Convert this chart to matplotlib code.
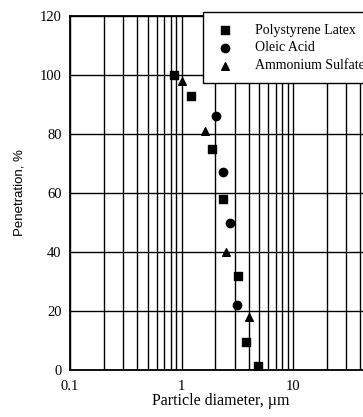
import matplotlib
matplotlib.use("Agg")
import matplotlib.pyplot as plt
import numpy as np

# data
ps_d = [0.86, 1.21, 1.87, 2.37, 3.19, 3.77, 4.88]
ps_p = [100, 93, 75, 58, 32, 9.5, 1.5]

oa_d = [2.03, 2.37, 2.72, 3.17]
oa_p = [86, 67, 50, 22]

as_d = [1.0, 1.62, 2.51, 4.06]
as_p = [98, 81, 40, 18]

labels = ["Polystyrene Latex", "Oleic Acid", "Ammonium Sulfate"]
yticks = [0, 20, 40, 60, 80, 100, 120]
xticks = [0.1, 1, 10]
xticklabels = ["0.1", "1", "10"]

plt.rcParams['font.family'] = ['Liberation Serif', 'DejaVu Serif']

fig = plt.figure(figsize=(3.63, 4.17), dpi=100)
# axes runs past the right edge of the picture, like the cropped scan
ax = fig.add_axes([70/363, 47/417, 334.5/363, 354/417])

ax.set_xscale('log')
ax.set_xlim(0.1, 100)
ax.set_ylim(0, 120)

# grid at every 1..9 of each decade
ax.xaxis.set_major_locator(matplotlib.ticker.FixedLocator(xticks))
ax.xaxis.set_minor_locator(matplotlib.ticker.LogLocator(base=10, subs=np.arange(2, 10), numticks=20))
ax.xaxis.set_major_formatter(matplotlib.ticker.FixedFormatter(xticklabels))
ax.xaxis.set_minor_formatter(matplotlib.ticker.NullFormatter())
ax.set_yticks(yticks)
ax.grid(True, which='both', axis='x', color='black', linewidth=1.0)
ax.grid(True, which='major', axis='y', color='black', linewidth=1.0)
ax.set_axisbelow(True)
ax.tick_params(which='both', length=0, labelsize=10.5)
ax.tick_params(axis='x', pad=7)
ax.tick_params(axis='y', pad=6)

for s in ax.spines.values():
    s.set_linewidth(1.3)

ax.scatter(ps_d, ps_p, marker='s', s=30, color='black', label=labels[0], zorder=3)
ax.scatter(oa_d, oa_p, marker='o', s=36, color='black', label=labels[1], zorder=3)
ax.scatter(as_d, as_p, marker='^', s=30, color='black', label=labels[2], zorder=3)

ax.set_xlabel("Particle diameter, \u00b5m", fontsize=11.5, labelpad=4)
ax.xaxis.set_label_coords(0.45, -0.065)
ax.set_ylabel("Penetration, %", fontsize=9.5, family=['Liberation Sans', 'DejaVu Sans'],
              labelpad=10)

leg = ax.legend(loc='upper left', bbox_to_anchor=(0.398, 1.01), fontsize=10,
                frameon=True, fancybox=False, edgecolor='black', framealpha=1,
                handletextpad=1.3, borderpad=0.8, labelspacing=0.35,
                handlelength=1.6, borderaxespad=0)
leg.get_frame().set_linewidth(1.0)

fig.savefig("out.png", dpi=100)
